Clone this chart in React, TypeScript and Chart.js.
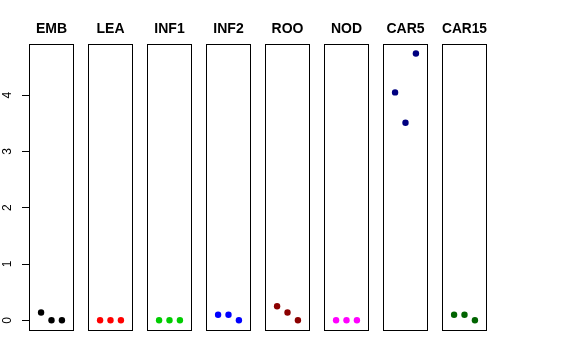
import React, { useEffect, useRef } from "react";
import { Chart, registerables } from "chart.js";

Chart.register(...registerables);

const categories = ["EMB", "LEA", "INF1", "INF2", "ROO", "NOD", "CAR5", "CAR15"];
const xPositions = [1, 2, 3];
const embValues = [0.14, 0, 0];
const leaValues = [0, 0, 0];
const inf1Values = [0, 0, 0];
const inf2Values = [0.1, 0.1, 0];
const rooValues = [0.25, 0.14, 0];
const nodValues = [0, 0, 0];
const car5Values = [4.05, 3.51, 4.74];
const car15Values = [0.1, 0.1, 0];
const seriesValues = [embValues, leaValues, inf1Values, inf2Values, rooValues, nodValues, car5Values, car15Values];
const colors = ["#000000", "#FF0000", "#00CD00", "#0000FF", "#8B0000", "#FF00FF", "#000080", "#006400"];
const yTicks = [0, 1, 2, 3, 4];

const Y_MIN = -0.19;
const Y_MAX = 4.91;
const X_MIN = -0.16;
const X_MAX = 4.16;

const PANEL_LEFT0 = 29;
const PANEL_STEP = 59;
const PANEL_W = 45;
const AXIS_W = 29;
const CANVAS_H = 331;

const boxPlugin = {
  id: "panelBox",
  afterDatasetsDraw(chart: any) {
    const { ctx, chartArea } = chart;
    ctx.save();
    ctx.strokeStyle = "#000";
    ctx.lineWidth = 1;
    ctx.strokeRect(chartArea.left + 0.5, chartArea.top + 0.5, chartArea.right - chartArea.left - 1, chartArea.bottom - chartArea.top - 1);
    ctx.restore();
  },
};

function Panel({ index }: { index: number }) {
  const ref = useRef<HTMLCanvasElement | null>(null);
  const withAxis = index === 0;
  const width = withAxis ? AXIS_W + PANEL_W : PANEL_W;
  const left = withAxis ? PANEL_LEFT0 - AXIS_W : PANEL_LEFT0 + index * PANEL_STEP;

  useEffect(() => {
    if (!ref.current) return;
    const chart = new Chart(ref.current, {
      type: "scatter",
      data: {
        datasets: [
          {
            data: xPositions.map((x, i) => ({ x, y: seriesValues[index][i] })),
            backgroundColor: colors[index],
            borderColor: colors[index],
            pointRadius: 3.2,
            borderWidth: 0,
          },
        ],
      },
      options: {
        animation: false,
        responsive: false,
        devicePixelRatio: 1,
        layout: { padding: 0, autoPadding: false },
        plugins: {
          legend: { display: false },
          tooltip: { enabled: false },
          title: {
            display: true,
            text: categories[index],
            fullSize: false,
            color: "#000",
            font: { family: "'Liberation Sans', Arial, sans-serif", size: 14, weight: "bold" },
            padding: { top: 21, bottom: 6.2 },
          },
        },
        scales: {
          x: { type: "linear", min: X_MIN, max: X_MAX, display: false },
          y: {
            type: "linear",
            min: Y_MIN,
            max: Y_MAX,
            display: withAxis,
            position: "left",
            border: { display: false },
            grid: { drawOnChartArea: false, tickLength: 7, color: "#000", tickColor: "#000", tickWidth: 1 },
            ticks: {
              color: "#000",
              font: { family: "'Liberation Sans', Arial, sans-serif", size: 12 },
              minRotation: 90,
              maxRotation: 90,
              crossAlign: "center",
              padding: 11,
            },
            afterBuildTicks: (scale: any) => {
              scale.ticks = yTicks.map((v) => ({ value: v }));
            },
            afterFit: (scale: any) => {
              if (withAxis) {
                scale.width = AXIS_W;
                scale.paddingTop = 0;
                scale.paddingBottom = 0;
              }
            },
          },
        },
      },
      plugins: [boxPlugin],
    } as any);
    return () => chart.destroy();
  }, [index]);

  return (
    <div style={{ position: "absolute", left, top: 0, width, height: CANVAS_H }}>
      <canvas ref={ref} width={width} height={CANVAS_H} style={{ display: "block" }} />
    </div>
  );
}

export default function App() {
  return (
    <div style={{ position: "absolute", left: 0, top: 0, width: 576, height: 360, background: "#fff" }}>
      {categories.map((c, i) => (
        <Panel key={c} index={i} />
      ))}
    </div>
  );
}
